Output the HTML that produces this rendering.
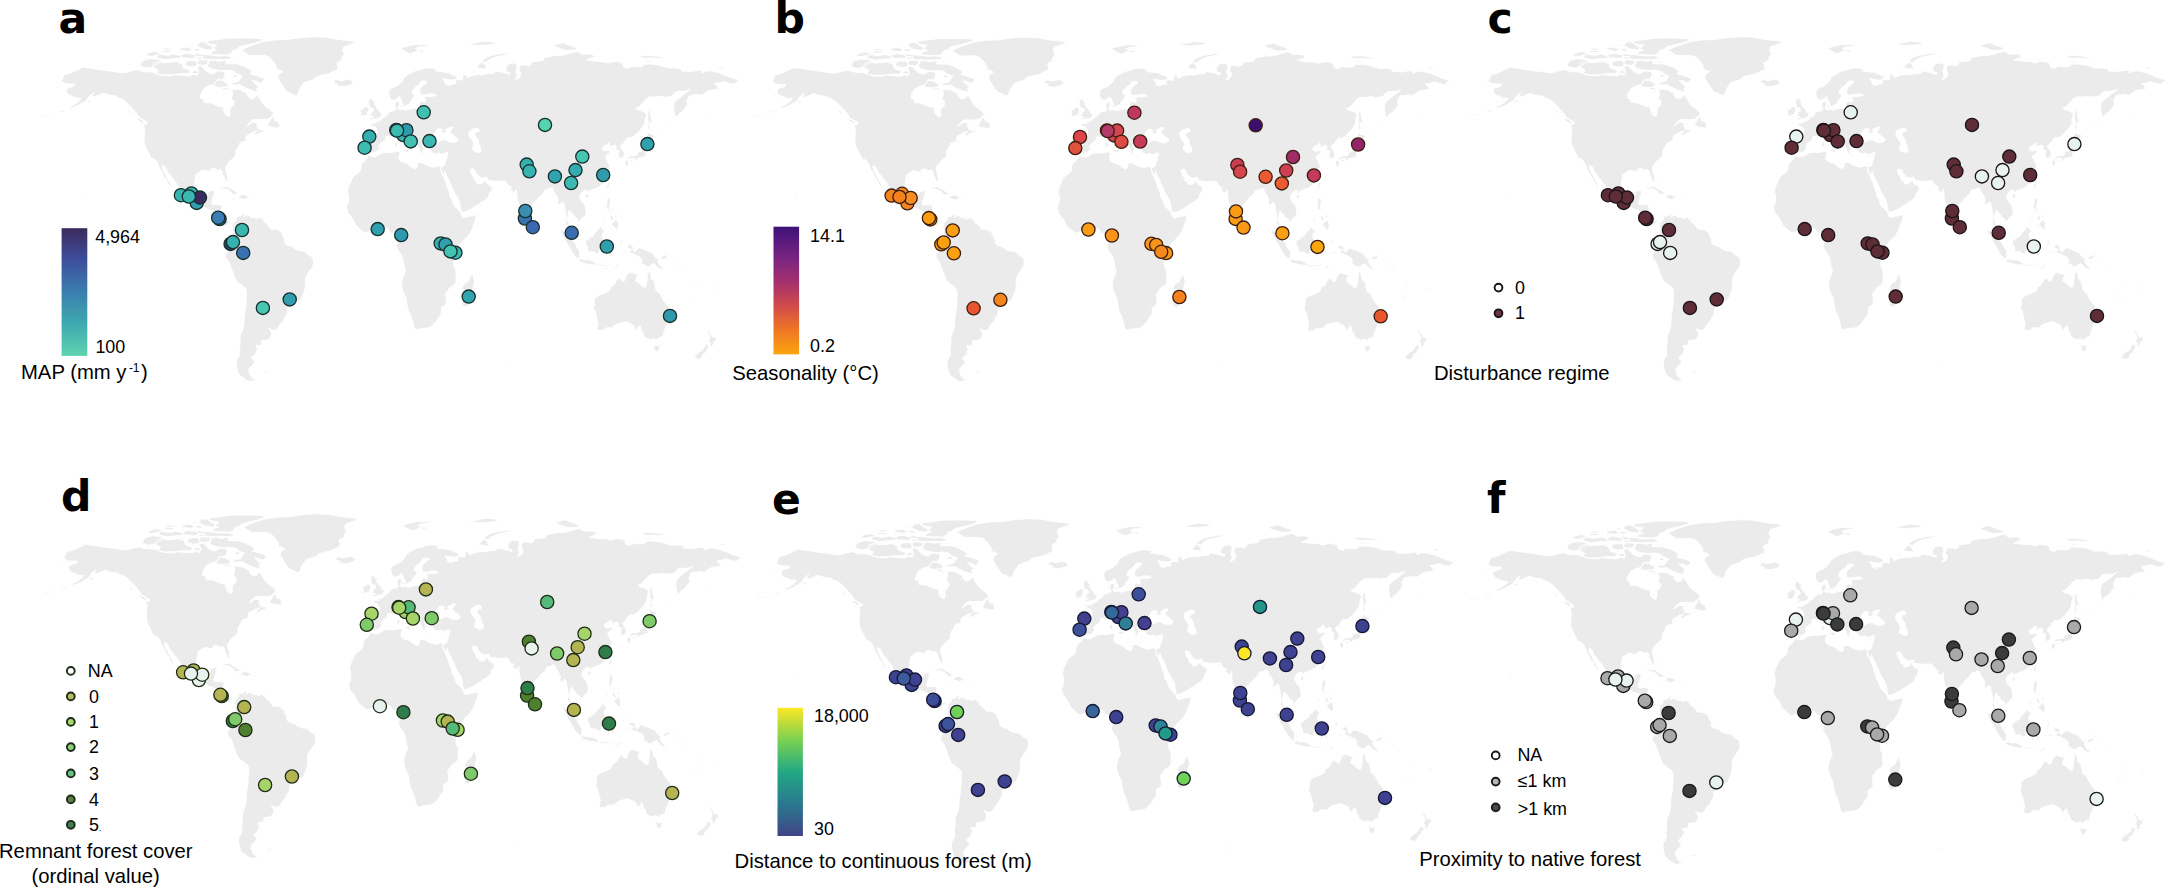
<!DOCTYPE html><html><head><meta charset="utf-8"><title>Figure</title><style>
html,body{margin:0;padding:0;background:#fff}svg{display:block}.t{font-family:"Liberation Sans",Arial,sans-serif;font-size:20.25px;fill:#000}.l{font-family:"Liberation Sans",Arial,sans-serif;font-size:17.9px;fill:#000}.pl{font-family:"DejaVu Sans","Liberation Sans",sans-serif;font-weight:bold;font-size:42.5px;fill:#000}.d{stroke-width:1.3}
</style></head><body>
<svg width="2168" height="888" viewBox="0 0 2168 888">
<defs><g id="world"><path fill="#ebebeb" stroke="#fff" stroke-width="0.9" stroke-linejoin="round" d="M61.4,81.3L64.3,74.6L70.9,72.9L83.2,67.2L91.7,68.4L105.0,70.4L112.5,71.4L123.9,72.9L133.3,70.4L137.1,69.7L142.8,71.6L152.3,72.1L161.7,75.4L171.2,75.9L175.0,74.6L182.5,75.4L190.1,75.9L193.9,74.1L197.7,75.4L198.6,71.6L196.7,67.2L200.5,65.5L204.3,69.2L207.1,72.1L212.8,74.1L216.6,71.6L218.5,70.9L224.2,71.6L225.1,74.6L223.2,79.1L217.5,79.6L215.6,82.8L213.8,84.5L209.0,85.8L204.3,88.2L201.5,92.7L200.1,97.7L203.3,98.9L204.3,102.6L209.0,102.6L212.8,103.8L218.5,106.3L223.2,107.1L224.2,112.5L226.0,115.0L228.9,116.7L230.2,113.8L229.8,108.8L233.6,105.1L234.2,101.4L231.2,98.4L232.7,93.9L231.7,89.5L235.5,89.2L240.2,89.7L244.0,92.0L246.9,92.7L247.8,96.4L250.6,98.9L254.4,98.2L257.3,94.4L260.1,98.9L262.9,103.8L265.8,106.8L270.5,110.0L273.7,113.8L271.5,116.2L267.7,119.2L262.0,119.5L253.5,119.5L249.7,122.4L246.9,126.1L252.5,122.4L257.3,122.4L256.7,126.1L260.1,129.9L263.9,129.9L265.8,128.6L263.9,131.6L259.2,133.3L255.4,135.8L254.0,134.1L257.3,131.1L252.5,132.3L249.7,134.1L246.5,135.8L245.5,139.0L246.9,140.5L244.0,141.5L239.7,143.0L238.9,146.0L236.8,148.9L235.5,152.2L235.9,155.1L234.0,157.8L230.8,160.1L227.9,163.3L225.7,167.0L225.5,170.0L227.0,174.4L227.8,179.4L227.0,181.4L225.7,181.1L224.2,177.4L222.6,174.4L222.6,171.5L220.4,169.5L217.5,170.2L214.7,168.5L210.9,169.0L210.0,171.5L207.1,171.2L202.4,170.2L199.6,172.0L195.8,174.4L195.0,179.4L194.5,184.4L194.3,189.3L195.4,193.0L197.7,196.7L200.5,198.7L205.2,197.7L207.7,195.5L208.3,191.8L211.9,190.5L214.7,190.5L213.8,195.5L212.8,198.5L211.5,202.9L212.2,204.7L216.6,204.4L220.4,204.7L221.9,206.6L221.1,211.6L220.9,216.6L222.6,220.0L225.1,221.8L227.9,220.8L229.8,220.3L232.7,222.5L233.2,224.5L231.3,223.2L230.8,221.5L228.5,222.7L227.4,223.5L227.6,225.5L226.0,225.7L224.5,223.7L222.3,223.2L220.9,222.0L218.5,219.5L217.0,217.0L213.8,211.6L210.9,210.4L207.1,209.1L204.3,207.4L201.5,203.9L198.6,204.7L196.7,204.9L192.9,203.2L190.1,201.7L186.3,199.2L182.5,197.5L179.7,193.5L180.1,189.8L177.8,185.6L175.0,181.1L172.1,177.9L170.2,174.9L167.4,172.0L165.5,167.0L162.3,165.3L162.5,168.7L165.1,173.2L167.4,178.2L169.7,182.4L171.9,186.3L170.8,186.8L167.4,182.6L166.5,179.4L163.6,176.2L162.7,173.2L160.2,169.5L158.5,165.3L157.6,162.6L155.1,159.6L151.3,158.3L149.4,154.6L147.9,151.4L146.6,148.9L144.7,144.7L144.1,139.8L144.3,134.8L144.7,129.1L143.4,124.2L146.6,124.4L147.5,122.4L143.7,120.0L139.0,117.5L137.1,113.8L133.3,109.5L130.5,106.3L126.7,102.6L122.9,99.4L119.2,98.2L114.4,95.7L108.7,95.2L103.1,93.2L98.3,95.2L94.6,96.9L91.7,96.4L93.6,92.7L88.9,96.4L87.0,100.1L82.3,103.1L77.5,105.8L72.8,107.6L68.1,108.8L70.9,106.3L75.6,103.8L80.4,100.1L81.3,98.2L76.6,98.2L72.8,96.4L69.0,95.2L66.6,92.2L66.2,89.0L70.0,87.3L74.7,85.8L74.7,84.0L70.9,84.0L65.2,83.8L61.4,81.3ZM232.7,222.5L234.0,222.3L236.1,220.0L236.5,217.5L237.8,216.3L240.6,215.8L242.7,214.3L243.6,213.1L244.6,214.6L243.5,216.6L244.0,217.0L246.3,215.3L246.9,213.6L247.4,215.3L249.9,216.1L250.6,217.5L254.0,217.5L256.7,218.8L259.2,217.3L262.0,217.3L261.1,218.5L263.9,220.3L264.3,222.5L266.2,223.2L268.6,226.0L271.1,229.2L274.9,229.2L277.5,229.7L280.2,231.7L281.9,233.1L282.8,236.4L284.7,239.3L284.7,243.1L287.5,245.3L288.9,245.5L292.3,246.5L295.1,249.2L297.9,250.0L300.8,251.0L303.6,251.0L306.5,253.0L308.7,255.4L312.3,256.7L313.3,259.9L313.5,263.6L312.5,266.8L310.4,269.8L308.5,272.5L306.5,276.0L305.5,278.5L305.5,282.9L305.3,287.6L304.2,292.1L302.7,295.3L301.7,298.3L299.8,300.8L297.0,301.0L294.7,301.5L291.7,303.2L288.9,306.0L287.3,309.4L287.2,313.9L285.1,316.9L283.6,320.6L280.5,323.8L278.3,327.5L276.2,330.0L273.0,330.2L269.9,329.0L268.8,328.0L270.9,331.2L271.8,334.0L270.3,337.9L267.7,339.7L263.9,340.4L261.6,340.4L261.6,344.6L258.6,345.6L256.3,345.1L256.3,347.8L258.8,349.1L256.7,350.3L255.8,354.0L253.5,355.8L251.6,357.7L253.5,360.2L254.8,362.2L251.6,365.7L249.1,368.4L248.8,371.4L249.9,373.6L250.3,375.6L252.5,378.1L255.9,379.3L253.5,380.5L250.3,381.5L247.2,380.5L244.0,378.3L241.2,376.3L238.7,373.8L237.4,370.1L236.5,365.2L236.5,360.2L238.3,357.7L240.0,354.0L239.3,350.3L239.7,347.3L240.2,341.6L240.2,335.9L241.9,332.0L243.5,327.3L244.0,321.8L244.2,316.9L245.0,311.9L245.9,306.5L246.1,301.5L246.5,295.8L246.3,289.4L244.2,286.9L241.2,284.7L237.0,281.7L234.9,278.0L233.2,273.5L231.3,268.6L229.8,264.1L228.1,260.6L225.7,258.7L225.5,254.9L227.4,252.2L228.1,250.0L226.2,249.2L226.4,246.3L227.8,243.3L228.3,241.3L230.2,240.1L230.8,237.6L233.0,234.4L232.7,230.2L232.9,227.0L231.9,226.0L233.2,224.2ZM368.1,155.1L371.7,156.6L375.5,156.9L378.4,155.1L381.2,153.4L385.0,152.4L388.8,152.6L393.5,152.2L397.8,151.4L400.1,152.2L399.4,154.6L398.8,158.3L400.1,160.8L402.9,162.3L407.7,163.8L410.5,166.5L415.2,168.7L417.1,167.0L417.1,163.0L420.0,162.3L422.8,163.0L426.6,165.5L430.4,166.5L434.2,167.3L438.0,165.8L440.4,166.5L440.8,169.5L441.2,172.5L442.9,175.4L444.6,179.4L446.5,184.4L447.4,188.1L449.3,191.8L449.9,196.7L452.1,199.2L453.5,204.2L454.6,206.6L457.3,208.6L459.7,211.6L461.0,213.1L461.2,215.3L463.5,217.8L466.3,217.0L469.2,216.3L473.0,215.6L476.2,214.3L475.8,217.8L475.2,220.8L473.5,224.5L472.0,229.4L470.1,232.7L467.8,236.4L465.0,238.8L461.6,242.3L459.1,245.8L457.8,248.3L455.4,250.7L454.2,254.0L452.9,258.2L453.8,260.9L453.7,264.9L454.6,268.6L455.9,270.1L455.9,274.8L456.3,279.7L455.4,283.4L453.1,285.7L449.7,287.6L448.0,290.6L445.5,293.3L446.1,297.8L446.5,302.8L445.0,305.2L441.7,307.0L441.4,309.4L441.4,312.7L440.6,314.9L438.3,317.6L436.4,321.1L433.2,324.8L430.4,327.0L427.9,328.0L424.7,328.3L420.9,328.5L417.1,330.0L414.9,328.8L414.1,327.8L413.4,324.3L412.2,320.1L410.7,315.1L408.6,311.4L407.7,308.2L406.7,303.2L406.5,299.0L404.7,295.3L402.6,290.4L401.6,285.9L401.8,282.2L402.9,277.2L405.0,273.5L405.4,270.6L403.9,266.1L403.5,261.1L402.6,258.7L402.0,256.2L400.1,253.2L397.8,250.0L396.1,245.8L397.1,242.8L397.5,239.3L397.8,236.4L397.5,234.1L395.9,232.4L393.5,232.9L391.2,233.1L389.3,230.9L387.8,228.4L385.0,227.9L381.6,228.7L378.7,230.2L375.5,231.9L373.2,231.2L370.8,230.9L367.9,231.9L365.1,232.9L362.3,231.2L359.4,228.4L357.5,226.7L355.3,224.5L354.3,222.3L353.4,220.0L351.3,217.0L349.4,214.6L347.7,213.1L347.5,210.4L346.2,207.4L347.7,204.7L348.5,200.5L348.8,196.7L348.3,193.8L347.1,191.8L348.1,188.6L349.0,185.1L350.9,181.9L351.9,178.9L354.1,175.7L356.6,174.2L359.4,172.0L360.9,169.5L360.8,166.0L362.3,162.8L364.7,160.8L366.4,159.3L367.6,156.6ZM362.3,152.2L362.7,148.9L361.3,147.7L362.5,144.2L362.8,141.0L361.7,137.3L364.2,135.6L367.9,135.8L372.1,136.1L375.9,136.3L377.0,133.6L377.0,129.9L375.1,126.9L371.0,125.4L370.4,123.7L373.6,122.9L376.3,123.4L375.9,120.7L378.9,121.7L379.7,120.7L382.1,119.2L382.7,117.5L385.9,116.5L387.6,114.5L388.4,112.5L390.7,111.5L392.9,111.0L395.4,110.5L396.1,108.8L395.0,106.3L394.6,103.8L395.6,102.4L397.8,101.4L399.4,100.9L399.0,103.6L399.9,104.3L398.6,106.3L397.8,108.1L400.1,110.0L402.9,109.1L406.2,110.3L410.1,109.1L414.3,108.1L416.4,109.1L419.0,107.6L419.0,103.8L420.2,101.4L422.1,100.9L424.9,102.4L425.5,99.4L423.8,97.2L427.5,96.4L432.3,96.4L436.4,95.4L433.2,93.7L428.5,94.2L422.8,95.4L420.0,93.7L419.6,90.2L420.9,87.3L425.7,83.5L427.2,81.8L424.7,80.8L420.9,81.3L419.6,84.0L416.2,86.5L413.0,89.5L411.8,93.2L414.9,95.2L413.4,98.2L410.9,100.6L409.6,104.3L406.9,104.8L406.2,106.6L403.9,106.6L402.9,104.3L401.6,101.1L400.3,97.7L399.2,96.4L397.3,98.2L394.4,99.9L392.2,99.9L389.7,97.7L388.8,93.9L388.8,91.0L390.3,89.0L393.5,87.3L397.3,85.8L400.1,83.5L402.6,80.8L403.9,77.8L407.3,74.9L411.1,72.9L415.2,70.9L420.0,69.9L424.7,68.2L427.9,67.7L432.3,67.9L438.0,69.7L435.1,70.9L441.7,71.9L447.4,72.4L452.1,74.6L455.9,76.1L457.3,78.6L453.1,80.1L447.4,79.6L442.7,78.6L445.1,82.1L445.3,84.3L449.3,85.5L451.2,84.0L455.9,83.8L455.0,80.8L458.8,79.3L462.5,80.1L463.1,76.6L462.2,74.1L466.3,74.9L467.3,77.8L470.1,76.4L474.8,74.9L479.6,74.4L482.4,74.9L488.1,73.6L493.8,73.4L494.7,70.9L501.3,72.1L506.1,73.4L509.3,74.6L510.2,72.9L506.1,71.4L505.7,67.9L508.9,63.5L513.6,63.0L517.0,64.2L517.0,67.9L515.9,71.6L517.4,75.9L515.1,79.6L518.4,78.3L520.3,76.1L520.8,73.4L518.7,69.2L520.8,65.0L525.9,65.0L528.8,66.0L531.6,64.2L532.2,61.7L538.2,61.2L543.3,60.5L543.9,58.0L549.6,56.5L555.3,55.5L560.9,55.5L565.7,54.6L570.4,53.1L576.6,51.3L579.9,52.6L581.7,54.3L587.4,53.8L592.1,54.3L594.4,56.8L589.3,59.3L586.5,60.0L593.1,61.0L598.8,61.5L603.5,61.7L608.2,63.0L613.0,61.5L618.6,61.7L622.4,63.0L623.7,67.2L628.1,68.4L630.9,66.4L636.6,66.7L642.3,66.7L644.2,64.2L649.9,64.0L657.4,64.7L663.1,66.4L668.8,68.2L674.5,67.9L680.1,68.4L682.0,71.2L686.8,71.2L691.5,71.6L697.2,70.4L701.9,70.2L702.1,72.9L706.6,70.9L711.3,70.9L716.1,72.1L719.9,73.1L725.5,75.4L731.2,77.8L735.9,79.1L739.3,80.1L736.9,81.6L734.0,84.3L729.3,83.3L723.6,81.6L719.9,82.8L716.1,83.5L714.8,83.5L718.0,87.3L718.9,89.2L714.2,89.5L708.5,90.7L704.7,93.2L701.9,95.2L697.2,94.4L693.4,95.2L689.6,95.4L688.1,98.2L686.8,100.6L687.7,104.3L685.4,107.6L682.0,112.0L679.2,113.3L677.3,116.2L675.8,117.5L674.5,113.8L673.7,108.8L673.9,103.8L676.0,100.6L679.2,98.2L683.0,95.2L687.7,91.5L690.5,89.0L685.8,91.0L682.0,91.2L676.3,91.5L672.6,95.2L671.6,96.4L665.0,97.2L661.2,96.2L655.5,96.9L649.9,96.9L646.1,98.9L644.2,101.4L641.3,104.3L639.1,106.8L635.7,108.3L638.5,110.0L641.3,110.5L644.2,112.0L646.6,114.3L645.1,118.7L644.7,123.7L642.3,127.4L639.5,131.1L636.6,133.6L633.8,136.5L630.9,137.8L628.1,137.3L626.8,138.8L624.9,141.0L624.7,142.7L621.5,144.7L620.5,146.7L622.4,149.7L624.1,152.6L624.1,155.9L622.4,157.4L620.2,158.1L618.3,158.3L618.6,153.4L619.2,150.7L615.8,149.7L616.4,146.0L614.5,145.0L612.0,146.0L609.2,147.4L609.7,144.2L608.6,142.7L606.0,145.2L602.6,146.9L602.2,148.9L604.1,150.9L606.3,150.9L607.9,150.2L611.1,151.4L609.2,153.1L607.3,154.4L605.0,157.1L606.7,159.1L608.0,162.6L609.9,165.8L609.6,167.3L607.3,168.7L609.2,169.5L610.1,170.7L609.4,173.7L607.3,176.4L605.8,179.4L604.4,181.4L602.7,183.4L600.7,185.6L597.8,187.6L595.4,188.6L593.1,189.3L590.3,190.5L588.4,191.3L588.0,193.5L587.0,192.3L586.9,190.5L584.6,190.0L582.7,191.3L581.0,193.0L579.5,196.7L580.4,199.2L581.7,201.7L584.2,204.2L585.5,207.4L586.1,211.6L585.9,214.6L583.6,217.0L582.1,218.0L581.0,220.0L578.5,222.0L577.6,222.3L578.0,219.0L576.1,218.0L574.2,216.6L573.2,214.1L570.4,212.3L570.2,210.4L568.5,210.9L568.3,214.1L567.2,218.3L567.0,220.8L568.5,222.7L569.4,226.0L571.3,227.0L572.9,228.4L574.6,230.9L574.9,233.9L575.1,236.9L576.4,240.3L574.9,240.3L572.3,237.9L571.0,236.4L569.8,233.9L569.1,230.2L568.7,227.7L567.7,226.5L565.9,223.5L565.3,221.5L566.0,217.8L565.9,214.1L565.1,210.4L564.3,206.6L564.0,203.4L562.4,201.9L560.9,203.4L559.6,204.7L557.7,204.2L558.1,199.7L557.1,196.7L555.8,194.3L553.9,191.8L553.0,188.6L550.7,187.8L548.6,189.3L545.8,189.8L543.9,191.0L543.1,193.8L540.5,195.5L538.2,198.0L535.2,201.7L532.9,203.7L531.2,205.2L530.7,208.4L531.2,211.1L530.5,214.1L530.3,218.3L528.8,220.8L527.3,222.0L525.9,223.7L524.2,221.5L523.3,217.8L521.8,214.1L520.4,209.6L519.7,206.6L518.4,202.9L517.4,199.2L517.0,196.2L516.8,191.8L516.5,189.3L515.5,191.8L513.3,192.3L510.2,189.1L511.7,187.1L509.5,186.3L508.0,185.1L506.4,182.4L505.1,180.9L501.3,181.1L496.6,181.4L493.8,180.9L490.5,180.6L487.7,179.9L486.8,176.9L484.3,177.7L482.4,177.9L479.6,176.9L477.3,174.9L475.8,172.5L474.7,170.0L473.0,169.0L471.6,168.7L470.1,170.0L470.9,172.7L472.0,175.2L473.9,177.7L474.3,180.4L475.4,181.4L476.4,179.2L476.9,181.9L477.1,183.9L479.6,183.9L482.0,183.6L484.3,181.1L485.8,178.9L486.2,182.6L488.1,184.6L490.2,185.3L492.4,188.1L490.9,191.8L489.0,193.5L488.7,196.7L486.2,199.2L483.7,201.2L480.5,202.7L478.1,204.9L474.8,206.6L472.0,208.6L469.2,210.1L464.4,212.1L461.6,212.3L461.0,210.4L460.3,207.1L459.9,202.9L458.8,199.7L456.9,196.7L455.0,193.5L453.5,190.5L452.1,186.8L450.2,183.1L448.9,179.9L447.0,176.4L445.9,174.4L445.1,171.0L444.4,174.4L444.0,174.9L442.7,173.7L441.4,170.7L440.8,169.5L440.4,166.5L442.1,166.8L444.0,166.3L445.1,163.8L445.7,161.6L446.8,158.3L447.2,155.6L447.8,152.6L445.5,152.9L443.2,154.1L440.8,154.4L438.0,152.6L436.8,153.9L434.2,153.4L431.3,152.2L430.8,149.9L429.2,148.7L430.0,146.5L428.9,145.7L429.8,143.7L432.3,143.7L434.5,142.5L438.3,142.0L441.7,140.0L445.5,139.8L448.4,141.5L452.1,142.5L455.0,142.2L457.8,141.0L457.8,138.5L455.0,136.5L452.1,134.1L449.9,132.3L451.2,129.9L453.5,126.9L451.2,127.1L448.4,128.1L446.1,129.1L445.5,130.6L448.4,131.3L446.1,132.3L443.2,133.8L441.0,131.6L442.7,129.9L439.5,128.6L437.4,128.9L435.5,131.6L433.6,134.8L432.1,138.0L432.5,140.8L434.2,141.7L431.5,142.2L428.9,143.2L425.7,142.5L424.3,144.7L422.4,143.5L422.2,146.0L423.4,148.2L424.7,149.7L422.8,150.2L423.2,153.4L421.7,153.4L420.2,151.7L419.4,148.9L418.3,146.7L416.2,144.0L416.2,140.5L414.3,138.5L411.5,137.0L409.2,135.6L407.5,132.3L405.4,132.3L405.0,130.6L402.6,131.6L402.8,134.1L405.0,136.1L406.2,138.8L408.2,140.0L410.0,140.0L409.6,141.3L412.4,142.5L414.3,144.2L413.9,145.2L411.5,143.7L410.7,145.7L411.7,147.2L410.5,148.9L409.0,149.7L409.6,147.2L408.6,144.7L406.7,143.0L403.9,141.7L402.4,140.3L400.1,138.5L399.2,137.5L398.6,135.3L395.9,133.8L393.5,135.6L390.7,137.0L387.8,136.3L385.4,136.8L385.4,139.8L383.1,141.5L380.2,143.5L378.7,146.0L379.7,147.9L378.0,150.7L375.1,152.6L370.8,152.9L368.7,154.6L367.4,152.6L365.7,151.7ZM241.2,50.1L246.9,47.4L252.5,45.1L262.0,41.9L275.2,39.9L288.5,39.4L299.8,37.7L313.1,36.7L326.3,37.2L337.7,39.4L350.9,40.9L356.6,41.9L349.0,44.9L343.4,46.9L342.4,50.6L344.3,54.3L341.5,58.0L342.4,60.0L336.7,63.0L337.7,66.7L337.7,69.7L332.9,71.6L328.2,74.1L322.5,75.1L316.9,76.6L313.1,79.8L308.4,81.1L303.6,82.8L302.3,85.3L299.8,88.2L298.3,92.7L297.0,95.2L294.2,95.2L291.3,93.4L287.5,92.2L284.7,89.0L282.2,85.3L280.0,81.6L277.7,77.8L279.0,74.1L282.8,71.6L280.0,70.4L276.2,69.2L276.2,65.5L273.3,61.7L269.6,57.3L263.9,55.3L256.3,55.5L249.7,55.5L245.0,52.6ZM257.3,91.6L254.3,91.1L250.3,89.8L244.3,87.2L240.3,84.8L232.3,85.1L231.3,82.7L238.3,81.6L240.3,78.5L242.3,75.9L237.3,74.0L232.3,70.6L227.2,70.1L223.2,70.6L217.2,70.1L211.2,68.8L208.2,66.9L207.2,63.5L208.2,60.6L215.2,60.1L218.2,61.4L224.2,60.4L231.3,62.2L235.3,63.5L243.3,65.9L248.3,68.5L252.3,71.4L250.3,74.0L257.3,75.9L263.3,78.0L264.3,79.8L260.3,83.2L256.3,81.1L252.3,80.6L255.3,84.0L259.3,87.2L256.3,88.5L257.7,90.0ZM156.1,73.6L163.7,75.0L173.5,74.5L181.1,73.6L188.7,73.6L190.9,70.8L183.3,67.9L182.2,63.6L177.8,61.4L171.3,62.2L163.7,62.8L160.4,61.1L153.9,63.1L152.8,67.1L158.2,69.9ZM140.6,66.1L146.1,68.1L151.5,67.2L158.0,63.5L162.4,61.5L158.0,59.2L149.3,58.7L142.8,60.7L140.6,63.8ZM210.0,54.3L218.5,54.8L227.9,55.1L231.7,53.1L232.7,50.6L237.4,49.1L239.3,46.9L246.9,44.9L254.4,43.2L262.0,40.7L262.0,38.7L250.6,38.0L237.4,38.0L227.9,38.2L216.6,39.7L209.0,40.7L205.2,42.7L210.9,44.2L216.6,44.9L214.7,46.9L212.8,48.6L216.6,50.1L212.8,51.1L210.9,52.6ZM196.5,45.6L203.0,49.0L211.7,50.2L212.8,47.1L207.4,44.2L206.3,41.9L199.8,41.9ZM204.2,59.1L212.9,59.6L223.7,59.4L230.3,59.1L231.4,56.8L225.9,55.7L217.2,55.9L209.6,54.8L203.1,54.5L194.4,53.1L195.5,55.9L200.9,57.4ZM156.5,57.7L164.1,59.7L171.7,58.8L180.4,58.2L181.5,56.0L173.9,54.0L167.4,55.4L158.7,54.0L154.3,55.4ZM181.7,57.8L194.8,58.4L195.9,54.9L186.1,53.2L180.6,54.9ZM197.0,64.5L203.5,65.3L208.9,63.6L208.9,60.2L199.1,59.9L197.0,62.2ZM184.4,65.1L191.0,67.1L196.4,66.6L197.5,62.8L194.2,60.3L186.6,61.1ZM145.6,55.8L156.5,56.6L160.8,52.9L154.3,51.5L147.8,53.2ZM190.4,73.0L198.0,73.6L199.1,71.6L194.7,70.2ZM213.8,86.6L220.3,87.4L226.9,86.9L228.4,84.0L222.5,80.6L217.1,79.8L214.9,83.2ZM267.1,125.6L273.3,127.6L279.0,128.1L279.6,125.4L278.1,121.7L274.3,120.4L273.9,116.2L270.9,118.7L269.0,122.4ZM136.6,118.0L141.9,119.5L145.6,123.9L141.9,122.9L137.5,120.0ZM127.7,110.0L130.1,110.3L131.1,114.3L129.0,113.0ZM87.0,101.4L91.1,100.1L91.3,101.9L87.9,103.1ZM59.6,111.3L64.3,110.0L64.3,111.5L59.6,113.0ZM42.5,115.0L52.0,114.0L52.0,115.2L42.5,116.2ZM705.7,112.5L708.5,113.0L708.5,114.0L705.7,113.5ZM54.4,86.8L59.6,87.0L59.9,88.0L54.8,87.7ZM62.8,94.7L65.6,94.4L65.6,95.7L63.0,95.7ZM84.1,193.8L86.0,194.8L84.9,197.0L84.0,195.3ZM333.3,81.6L336.2,79.3L340.5,80.8L345.2,79.8L349.0,79.1L351.7,81.1L353.6,82.8L350.9,84.8L344.3,86.8L340.5,86.3L336.5,85.8L337.7,84.0L333.9,83.0ZM368.5,119.7L372.7,119.2L377.4,118.2L381.8,117.2L380.8,116.2L382.5,113.3L379.9,112.5L378.9,110.0L376.5,107.6L375.1,105.1L374.0,104.1L375.5,101.4L372.7,100.9L373.4,98.6L369.8,98.6L368.3,101.4L368.9,105.1L370.2,107.6L372.7,107.8L373.6,110.0L373.2,111.5L370.8,111.8L371.4,113.8L369.5,115.5L372.7,116.5L373.6,117.0L371.2,117.5ZM360.4,115.7L363.2,116.0L367.4,114.5L367.9,111.8L368.9,108.8L367.4,107.1L365.1,106.8L363.2,108.8L360.4,109.5L360.8,111.8L361.3,113.8L359.8,115.0ZM400.1,48.1L405.8,51.8L410.5,53.8L415.2,51.8L420.0,49.9L415.2,48.6L419.0,46.9L430.4,45.6L424.7,44.6L415.2,44.4L407.7,46.1ZM419.0,51.8L424.7,52.3L422.8,49.9L419.0,50.1ZM476.7,66.7L479.6,68.4L487.1,68.9L485.3,65.5L484.3,63.5L481.5,62.2L478.6,65.0ZM481.5,61.7L486.2,62.5L489.0,59.8L494.7,57.3L502.3,55.5L508.9,54.1L509.8,53.1L502.3,53.3L492.8,55.1L487.1,57.0L483.4,59.3ZM559.0,48.1L566.6,50.6L574.2,50.1L578.0,49.4L574.2,46.9L568.5,45.1L562.8,42.7L555.3,44.4L553.4,46.1ZM638.5,57.3L646.1,58.3L651.7,58.0L659.3,58.5L664.0,57.5L655.5,56.0L649.9,55.5L642.3,55.3ZM644.2,61.7L650.8,62.5L649.9,61.0L645.1,60.7ZM466.3,44.4L477.7,45.6L489.0,44.9L496.6,43.7L492.8,41.9L483.4,41.2L473.9,43.2ZM717.0,67.9L721.8,68.4L724.6,67.2L719.9,66.4ZM470.7,72.9L473.0,73.6L473.9,72.4L472.0,71.6ZM648.0,129.9L650.6,128.4L649.5,126.6L650.2,121.7L652.7,122.4L650.4,116.2L650.4,112.5L649.3,109.3L648.0,111.8L647.6,116.2L648.3,122.4L648.0,126.1ZM625.6,166.5L627.7,166.0L628.9,162.1L627.2,159.8L624.7,160.8L624.9,163.0ZM627.2,159.6L630.0,158.8L632.8,158.1L634.7,158.1L635.1,160.8L637.2,159.6L638.1,158.1L640.8,158.1L642.3,157.1L644.2,157.1L645.7,155.4L646.1,150.9L647.0,148.4L648.0,145.7L647.0,141.3L644.7,141.7L644.2,145.2L643.2,148.9L641.3,151.4L638.9,150.9L637.9,152.6L636.6,155.4L632.8,155.6L630.0,156.1L627.2,158.6ZM630.0,162.1L631.9,161.3L633.2,161.1L634.2,159.1L630.9,159.6ZM644.2,141.0L646.1,140.3L647.0,138.5L650.2,139.8L654.6,136.5L653.6,134.3L649.9,134.1L647.4,131.3L647.2,136.5L644.7,136.8ZM655.5,133.6L660.3,131.1L663.1,129.4L662.7,128.9L659.3,131.1L655.5,132.8ZM666.9,127.4L672.6,121.2L674.5,118.2L673.9,118.0L671.6,121.2L666.5,126.9ZM606.5,186.8L607.9,189.3L609.2,185.6L609.9,181.9L608.2,181.6ZM585.0,196.2L586.5,198.7L588.4,197.2L589.3,194.8L587.4,194.0ZM606.9,204.2L607.3,198.0L610.5,198.0L610.5,203.4L609.2,206.6L610.1,209.1L613.9,211.6L613.5,212.6L610.1,209.9L607.9,209.6L606.3,206.6ZM610.1,226.5L613.0,222.3L616.7,219.5L618.6,224.0L618.1,228.2L616.6,229.9L613.9,227.0L612.6,225.2ZM614.9,216.6L615.8,212.8L617.1,216.1L616.2,219.0ZM610.1,214.6L612.0,215.3L613.5,219.0L612.6,220.8L611.1,219.5L610.1,217.8ZM607.3,210.6L609.2,210.9L608.8,213.3L608.0,212.8ZM601.0,222.7L603.5,220.5L605.4,217.8L605.0,215.8L602.6,219.5ZM585.5,240.1L588.0,239.6L590.1,237.4L593.1,235.9L595.0,232.7L597.8,230.2L600.3,226.5L602.0,228.4L604.8,230.7L602.6,233.1L602.2,236.4L604.4,241.3L601.6,243.1L601.6,246.3L599.7,250.0L598.8,253.7L595.9,253.7L593.1,251.7L590.3,252.0L587.8,250.7L587.4,247.0L585.5,243.8ZM559.6,229.9L563.8,230.9L566.0,234.4L569.1,237.4L571.9,239.6L575.1,243.1L577.0,247.5L579.9,251.2L579.5,258.2L577.0,258.2L572.9,253.7L569.4,247.5L566.6,242.6L563.8,237.6ZM578.3,260.6L581.4,258.7L584.6,259.9L588.9,259.7L592.5,261.1L595.9,263.1L595.9,265.3L589.3,264.4L583.6,263.1L580.8,262.1ZM605.4,257.4L607.1,257.4L606.9,251.2L608.6,251.2L610.1,255.7L612.0,256.9L612.0,253.7L610.1,251.2L609.2,248.3L612.6,246.3L612.0,245.0L609.2,246.0L607.3,243.1L612.0,242.8L615.8,240.1L614.9,241.3L612.0,241.4L608.2,240.8L606.3,242.1L606.0,245.8L604.4,250.0L605.2,252.5ZM627.2,245.8L630.0,244.8L632.8,245.8L633.4,250.0L634.7,252.0L637.6,249.2L639.5,247.5L642.3,248.8L646.1,250.2L649.9,252.0L652.7,253.2L655.5,257.4L658.9,259.2L657.4,261.1L660.3,266.1L664.6,269.3L661.2,269.3L657.4,267.3L654.6,263.6L650.8,264.4L649.9,266.6L646.1,266.3L642.3,263.6L640.4,264.4L641.9,260.6L640.4,257.4L635.7,254.9L631.9,253.2L630.6,253.7L629.0,250.7L632.4,249.5L630.0,249.2L627.2,247.0ZM596.9,264.1L600.7,264.6L604.4,264.4L608.2,264.6L612.0,264.1L612.0,265.3L606.3,265.8L600.7,266.1L596.9,265.6ZM613.0,269.3L615.8,265.6L620.0,264.6L616.7,267.3L613.9,269.3ZM604.4,267.3L607.9,268.1L606.3,269.1ZM620.5,243.8L621.5,238.8L622.8,241.3L621.5,245.8ZM621.5,251.2L626.8,251.7L625.3,253.0L621.5,252.5ZM617.7,251.7L620.0,252.0L619.6,253.2L617.9,253.0ZM659.9,257.7L663.1,256.2L667.3,254.2L666.9,257.4L663.1,259.4ZM664.6,250.2L668.4,253.5L668.8,255.4L667.5,253.7L664.4,251.0ZM671.8,257.2L674.3,260.1L673.3,260.6L671.8,258.4ZM676.3,262.4L682.0,266.8L685.4,269.8L684.9,270.3L681.1,267.3L676.0,263.1ZM694.3,281.0L695.6,281.5L697.7,287.1L696.8,287.4ZM689.6,293.6L693.4,297.1L695.3,299.0L694.3,299.3L690.5,295.8ZM714.8,287.1L717.0,286.9L717.2,288.9L714.9,288.9ZM530.3,224.0L531.0,219.5L533.1,222.7L534.1,226.5L532.6,228.4L531.0,228.9L530.3,226.5ZM472.6,273.5L474.5,281.7L473.5,285.4L472.8,288.4L471.6,293.3L470.1,299.5L468.6,305.2L465.4,307.0L462.5,305.7L461.2,299.5L463.1,293.3L462.5,287.1L464.4,283.4L468.2,281.5L470.1,277.2ZM594.4,299.5L595.4,297.8L600.1,294.8L604.4,293.3L609.2,290.9L610.7,286.4L613.0,285.9L614.9,283.4L616.7,279.7L619.2,278.0L621.1,279.7L622.0,281.0L624.5,280.7L626.8,274.5L630.0,272.0L634.7,274.0L638.1,274.0L636.6,277.2L635.7,281.0L639.5,283.4L643.2,287.1L645.7,287.1L647.0,281.0L647.4,274.8L648.9,270.3L650.8,274.8L651.4,279.2L654.2,281.0L655.5,287.1L656.1,290.6L660.3,293.8L662.2,298.3L664.6,302.0L668.4,306.5L669.2,310.7L669.9,314.6L668.8,320.6L666.9,325.0L665.4,328.0L663.5,333.0L663.1,336.7L659.3,337.4L656.1,340.4L653.1,338.4L650.8,339.9L646.1,338.2L643.6,335.4L642.9,332.0L640.8,332.0L641.3,329.8L640.0,325.5L637.6,328.0L636.6,330.2L635.3,329.3L633.2,325.0L629.0,323.1L627.2,321.8L623.4,322.1L617.7,323.6L613.9,325.5L613.0,327.8L606.3,327.8L602.6,330.5L598.8,330.5L596.9,328.8L598.2,323.1L596.9,318.6L595.4,311.9L593.5,308.2L594.4,304.5ZM653.1,344.6L656.5,345.6L659.9,345.1L659.7,348.3L658.4,351.1L655.5,351.5L654.0,348.3ZM706.0,329.0L709.1,331.2L711.3,334.2L712.3,336.9L716.6,336.9L715.7,340.9L714.2,341.6L712.9,345.4L710.8,346.8L709.8,346.1L710.4,342.9L708.1,341.1L709.8,339.2L709.8,335.4L706.6,330.5ZM706.0,344.1L708.9,345.9L708.5,347.8L706.2,351.1L706.8,352.3L703.4,353.5L702.3,357.2L700.0,359.2L697.7,359.2L694.3,357.7L695.3,355.3L697.7,352.8L701.9,350.3L703.8,347.8L705.1,344.9ZM218.5,189.8L222.3,186.8L227.0,186.3L233.6,190.3L238.9,193.8L232.7,194.5L231.7,192.5L228.9,190.0L224.2,188.3L220.4,189.3ZM238.3,198.2L241.2,194.5L244.0,194.5L247.2,196.0L249.9,197.7L246.9,198.5L244.0,200.0L242.1,198.7ZM231.2,198.2L234.9,199.0L233.6,199.7L231.3,199.2ZM252.2,198.0L255.2,198.2L254.4,199.5L252.2,199.2ZM262.2,217.3L264.1,217.0L263.9,218.8L262.2,218.8ZM230.8,177.7L233.2,177.9L233.2,178.9L231.0,178.4ZM231.2,181.9L232.3,182.1L232.5,184.4L231.3,183.6ZM402.9,149.7L408.8,148.9L407.9,152.9L402.9,150.7ZM394.8,147.2L395.0,142.2L397.7,142.2L397.5,146.7ZM395.6,138.5L397.1,137.3L397.3,140.5L395.9,141.0ZM423.8,155.6L429.1,156.4L425.7,157.1ZM440.4,157.1L443.6,155.9L444.6,155.4L442.7,157.8ZM263.9,372.1L269.6,371.1L268.6,373.1L264.8,373.1ZM480.1,212.6L482.4,212.6L482.2,213.3L480.3,213.3ZM400.1,105.8L402.9,105.1L402.9,107.1L400.7,107.6ZM413.7,102.1L415.2,100.4L414.9,101.9ZM509.5,365.2L512.7,365.4L512.1,366.9L509.8,366.7ZM179.9,50.2L188.6,51.4L192.9,49.4L187.5,47.1L179.9,48.0ZM193.5,50.7L198.9,51.3L200.0,49.0L194.5,48.2ZM162.9,50.0L171.6,50.2L172.7,48.5L165.1,48.0ZM162.0,52.5L170.7,52.5L171.8,50.5L163.1,50.5ZM178.7,52.8L182.5,53.1L181.6,51.1ZM196.3,58.9L202.8,59.2L202.8,56.4L197.3,56.6ZM190.1,46.4L193.9,46.4L193.9,44.9L190.1,45.1ZM225.4,63.6L235.2,63.9L234.1,61.3L226.5,61.1ZM232.3,77.3L237.8,77.3L236.7,74.7L233.4,74.7ZM221.8,89.6L228.3,89.6L228.3,87.6L222.9,87.6ZM227.0,91.0L229.8,91.0L229.3,89.2L227.0,89.2ZM224.2,113.0L227.9,113.0L227.0,111.8L224.2,112.0ZM257.3,120.4L262.4,122.2L262.0,121.2L257.8,120.0ZM257.8,128.1L262.0,128.6L261.1,129.6L258.2,129.1ZM153.2,56.5L157.0,56.8L156.4,55.5L153.6,55.5ZM177.8,62.5L181.0,63.0L181.0,61.2L178.7,61.0Z"/><path fill="#fff" d="M469.2,131.1L473.0,128.6L477.7,127.6L480.0,129.9L479.2,131.8L476.2,132.3L475.8,134.1L474.5,134.1L476.7,137.3L479.0,140.3L478.8,142.7L479.6,144.7L481.1,147.4L481.5,151.7L477.7,152.9L474.8,151.7L472.0,149.7L472.6,146.0L473.7,143.7L471.6,140.3L469.5,137.3L468.2,134.1Z"/></g>

<linearGradient id="gA" x1="0" y1="0" x2="0" y2="1"><stop offset="0" stop-color="#3a2a5c"/><stop offset="0.25" stop-color="#3d4f9c"/><stop offset="0.5" stop-color="#3a7fae"/><stop offset="0.75" stop-color="#3fa9b0"/><stop offset="1" stop-color="#5fd3b0"/></linearGradient>
<linearGradient id="gB" x1="0" y1="0" x2="0" y2="1"><stop offset="0" stop-color="#3d1278"/><stop offset="0.25" stop-color="#7a2482"/><stop offset="0.45" stop-color="#a8326a"/><stop offset="0.62" stop-color="#d14b4b"/><stop offset="0.8" stop-color="#ee7425"/><stop offset="1" stop-color="#fca50f"/></linearGradient>
<linearGradient id="gE" x1="0" y1="0" x2="0" y2="1"><stop offset="0" stop-color="#fde725"/><stop offset="0.25" stop-color="#7ad151"/><stop offset="0.5" stop-color="#22a884"/><stop offset="0.75" stop-color="#2a788e"/><stop offset="1" stop-color="#414487"/></linearGradient>

</defs>
<rect width="2168" height="888" fill="#fff"/>
<use href="#world" x="0" y="0"/>
<use href="#world" x="710.7" y="0.4"/>
<use href="#world" x="1427" y="0"/>
<use href="#world" x="2.2" y="477.1"/>
<use href="#world" x="715" y="482"/>
<use href="#world" x="1426.6" y="483"/>
<g class="d" id="dots-a" stroke="#17302f">
<circle cx="180.9" cy="195.2" r="6.6" fill="#37b3b0"/>
<circle cx="191.4" cy="193.4" r="6.6" fill="#35b0b0"/>
<circle cx="196.7" cy="202.9" r="6.6" fill="#309fae"/>
<circle cx="200.0" cy="197.6" r="6.6" fill="#3b2a5e"/>
<circle cx="188.8" cy="196.5" r="6.6" fill="#3bb8b2"/>
<circle cx="219.6" cy="219.0" r="6.6" fill="#2f5f8f"/>
<circle cx="218.2" cy="217.7" r="6.6" fill="#3a7db5"/>
<circle cx="242.0" cy="230.0" r="6.6" fill="#3ab7b1"/>
<circle cx="230.6" cy="243.9" r="6.6" fill="#2b3f6e"/>
<circle cx="233.0" cy="242.1" r="6.6" fill="#36b0b0"/>
<circle cx="243.2" cy="252.9" r="6.6" fill="#3a6fb0"/>
<circle cx="262.9" cy="307.9" r="6.6" fill="#48c7b0"/>
<circle cx="289.7" cy="299.4" r="6.6" fill="#30a0ae"/>
<circle cx="369.3" cy="136.6" r="6.6" fill="#34aeb0"/>
<circle cx="364.6" cy="147.7" r="6.6" fill="#3ebcb1"/>
<circle cx="396.3" cy="130.0" r="6.6" fill="#2f6f80"/>
<circle cx="403.4" cy="135.0" r="6.6" fill="#3ab5b0"/>
<circle cx="406.4" cy="130.2" r="6.6" fill="#2f9aab"/>
<circle cx="397.0" cy="130.6" r="6.6" fill="#3cb9b1"/>
<circle cx="410.7" cy="141.4" r="6.6" fill="#42c0b1"/>
<circle cx="429.5" cy="141.1" r="6.6" fill="#3bb8b1"/>
<circle cx="423.7" cy="112.3" r="6.6" fill="#41c0b1"/>
<circle cx="545.0" cy="124.9" r="6.6" fill="#55d3b0"/>
<circle cx="647.4" cy="144.1" r="6.6" fill="#30a2ae"/>
<circle cx="582.3" cy="156.6" r="6.6" fill="#46c5b1"/>
<circle cx="526.7" cy="164.6" r="6.6" fill="#35b0b0"/>
<circle cx="529.4" cy="171.3" r="6.6" fill="#38b4b0"/>
<circle cx="575.5" cy="170.1" r="6.6" fill="#34acaf"/>
<circle cx="554.9" cy="176.4" r="6.6" fill="#31a3ae"/>
<circle cx="571.1" cy="183.0" r="6.6" fill="#3cbab1"/>
<circle cx="603.2" cy="175.0" r="6.6" fill="#319bad"/>
<circle cx="524.9" cy="218.5" r="6.6" fill="#3a72b0"/>
<circle cx="525.3" cy="211.0" r="6.6" fill="#3a8fb0"/>
<circle cx="532.8" cy="227.2" r="6.6" fill="#3a68b0"/>
<circle cx="571.7" cy="232.8" r="6.6" fill="#3a6db0"/>
<circle cx="606.8" cy="246.5" r="6.6" fill="#30a0ae"/>
<circle cx="377.7" cy="229.1" r="6.6" fill="#30a0ae"/>
<circle cx="401.2" cy="235.1" r="6.6" fill="#309aad"/>
<circle cx="440.7" cy="243.4" r="6.6" fill="#35b0b0"/>
<circle cx="445.5" cy="244.5" r="6.6" fill="#319fae"/>
<circle cx="455.4" cy="252.7" r="6.6" fill="#3bb8b1"/>
<circle cx="450.5" cy="251.4" r="6.6" fill="#42c2b1"/>
<circle cx="468.7" cy="296.6" r="6.6" fill="#31a5ae"/>
<circle cx="670.0" cy="315.9" r="6.6" fill="#309aad"/>
</g>
<g class="d" id="dots-b" stroke="#3d1f10">
<circle cx="891.6" cy="195.6" r="6.6" fill="#f5841f"/>
<circle cx="902.1" cy="193.8" r="6.6" fill="#f5841f"/>
<circle cx="907.4" cy="203.3" r="6.6" fill="#f5841f"/>
<circle cx="910.7" cy="198.0" r="6.6" fill="#f78d22"/>
<circle cx="899.5" cy="196.9" r="6.6" fill="#f4811f"/>
<circle cx="930.3" cy="219.4" r="6.6" fill="#f08a1c"/>
<circle cx="928.9" cy="218.1" r="6.6" fill="#fb9d14"/>
<circle cx="952.7" cy="230.4" r="6.6" fill="#fba012"/>
<circle cx="941.3" cy="244.3" r="6.6" fill="#f39419"/>
<circle cx="943.7" cy="242.5" r="6.6" fill="#fba012"/>
<circle cx="953.9" cy="253.3" r="6.6" fill="#fba012"/>
<circle cx="973.6" cy="308.3" r="6.6" fill="#e8552f"/>
<circle cx="1000.4" cy="299.8" r="6.6" fill="#f5841f"/>
<circle cx="1080.0" cy="137.0" r="6.6" fill="#dd4548"/>
<circle cx="1075.3" cy="148.1" r="6.6" fill="#e0533e"/>
<circle cx="1107.0" cy="130.4" r="6.6" fill="#7a1f5a"/>
<circle cx="1114.1" cy="135.4" r="6.6" fill="#d0444f"/>
<circle cx="1117.1" cy="130.6" r="6.6" fill="#d4464f"/>
<circle cx="1107.7" cy="131.0" r="6.6" fill="#b5396a"/>
<circle cx="1121.4" cy="141.8" r="6.6" fill="#dd4b45"/>
<circle cx="1140.2" cy="141.5" r="6.6" fill="#c93a58"/>
<circle cx="1134.4" cy="112.7" r="6.6" fill="#bf3762"/>
<circle cx="1255.7" cy="125.3" r="6.6" fill="#3b0f6e"/>
<circle cx="1358.1" cy="144.5" r="6.6" fill="#932667"/>
<circle cx="1293.0" cy="157.0" r="6.6" fill="#a02c65"/>
<circle cx="1237.4" cy="165.0" r="6.6" fill="#c93e55"/>
<circle cx="1240.1" cy="171.7" r="6.6" fill="#d4454f"/>
<circle cx="1286.2" cy="170.5" r="6.6" fill="#cc3f55"/>
<circle cx="1265.6" cy="176.8" r="6.6" fill="#ea5a33"/>
<circle cx="1281.8" cy="183.4" r="6.6" fill="#ea5d32"/>
<circle cx="1313.9" cy="175.4" r="6.6" fill="#c23a5c"/>
<circle cx="1235.6" cy="218.9" r="6.6" fill="#fb9c14"/>
<circle cx="1236.0" cy="211.4" r="6.6" fill="#fb9c14"/>
<circle cx="1243.5" cy="227.6" r="6.6" fill="#fa9a16"/>
<circle cx="1282.4" cy="233.2" r="6.6" fill="#fba012"/>
<circle cx="1317.5" cy="246.9" r="6.6" fill="#fca60f"/>
<circle cx="1088.4" cy="229.5" r="6.6" fill="#fa9c16"/>
<circle cx="1111.9" cy="235.5" r="6.6" fill="#f99418"/>
<circle cx="1151.4" cy="243.8" r="6.6" fill="#f8951a"/>
<circle cx="1156.2" cy="244.9" r="6.6" fill="#f8951a"/>
<circle cx="1166.1" cy="253.1" r="6.6" fill="#f8951a"/>
<circle cx="1161.2" cy="251.8" r="6.6" fill="#f6891d"/>
<circle cx="1179.4" cy="297.0" r="6.6" fill="#f5811f"/>
<circle cx="1380.7" cy="316.3" r="6.6" fill="#e9572f"/>
</g>
<g class="d" id="dots-c" stroke="#1c1416">
<circle cx="1607.9" cy="195.2" r="6.6" fill="#5f2d38"/>
<circle cx="1618.4" cy="193.4" r="6.6" fill="#5f2d38"/>
<circle cx="1623.7" cy="202.9" r="6.6" fill="#5f2d38"/>
<circle cx="1627.0" cy="197.6" r="6.6" fill="#5f2d38"/>
<circle cx="1615.8" cy="196.5" r="6.6" fill="#5f2d38"/>
<circle cx="1646.6" cy="219.0" r="6.6" fill="#5f2d38"/>
<circle cx="1645.2" cy="217.7" r="6.6" fill="#5f2d38"/>
<circle cx="1669.0" cy="230.0" r="6.6" fill="#5f2d38"/>
<circle cx="1657.6" cy="243.9" r="6.6" fill="#e8f3ef"/>
<circle cx="1660.0" cy="242.1" r="6.6" fill="#e8f3ef"/>
<circle cx="1670.2" cy="252.9" r="6.6" fill="#e8f3ef"/>
<circle cx="1689.9" cy="307.9" r="6.6" fill="#5f2d38"/>
<circle cx="1716.7" cy="299.4" r="6.6" fill="#5f2d38"/>
<circle cx="1796.3" cy="136.6" r="6.6" fill="#e8f3ef"/>
<circle cx="1791.6" cy="147.7" r="6.6" fill="#5f2d38"/>
<circle cx="1823.3" cy="130.0" r="6.6" fill="#5f2d38"/>
<circle cx="1830.4" cy="135.0" r="6.6" fill="#5f2d38"/>
<circle cx="1833.4" cy="130.2" r="6.6" fill="#5f2d38"/>
<circle cx="1824.0" cy="130.6" r="6.6" fill="#5f2d38"/>
<circle cx="1837.7" cy="141.4" r="6.6" fill="#5f2d38"/>
<circle cx="1856.5" cy="141.1" r="6.6" fill="#5f2d38"/>
<circle cx="1850.7" cy="112.3" r="6.6" fill="#e8f3ef"/>
<circle cx="1972.0" cy="124.9" r="6.6" fill="#5f2d38"/>
<circle cx="2074.4" cy="144.1" r="6.6" fill="#e8f3ef"/>
<circle cx="2009.3" cy="156.6" r="6.6" fill="#5f2d38"/>
<circle cx="1953.7" cy="164.6" r="6.6" fill="#5f2d38"/>
<circle cx="1956.4" cy="171.3" r="6.6" fill="#5f2d38"/>
<circle cx="2002.5" cy="170.1" r="6.6" fill="#e8f3ef"/>
<circle cx="1981.9" cy="176.4" r="6.6" fill="#e8f3ef"/>
<circle cx="1998.1" cy="183.0" r="6.6" fill="#e8f3ef"/>
<circle cx="2030.2" cy="175.0" r="6.6" fill="#5f2d38"/>
<circle cx="1951.9" cy="218.5" r="6.6" fill="#5f2d38"/>
<circle cx="1952.3" cy="211.0" r="6.6" fill="#5f2d38"/>
<circle cx="1959.8" cy="227.2" r="6.6" fill="#5f2d38"/>
<circle cx="1998.7" cy="232.8" r="6.6" fill="#5f2d38"/>
<circle cx="2033.8" cy="246.5" r="6.6" fill="#e8f3ef"/>
<circle cx="1804.7" cy="229.1" r="6.6" fill="#5f2d38"/>
<circle cx="1828.2" cy="235.1" r="6.6" fill="#5f2d38"/>
<circle cx="1867.7" cy="243.4" r="6.6" fill="#5f2d38"/>
<circle cx="1872.5" cy="244.5" r="6.6" fill="#5f2d38"/>
<circle cx="1882.4" cy="252.7" r="6.6" fill="#5f2d38"/>
<circle cx="1877.5" cy="251.4" r="6.6" fill="#5f2d38"/>
<circle cx="1895.7" cy="296.6" r="6.6" fill="#5f2d38"/>
<circle cx="2097.0" cy="315.9" r="6.6" fill="#5f2d38"/>
</g>
<g class="d" id="dots-d" stroke="#1f2d17">
<circle cx="183.1" cy="672.3" r="6.6" fill="#b5b452"/>
<circle cx="193.6" cy="670.5" r="6.6" fill="#b5b452"/>
<circle cx="198.9" cy="680.0" r="6.6" fill="#e8f3ef"/>
<circle cx="202.2" cy="674.7" r="6.6" fill="#e8f3ef"/>
<circle cx="191.0" cy="673.6" r="6.6" fill="#e8f3ef"/>
<circle cx="221.8" cy="696.1" r="6.6" fill="#4f8030"/>
<circle cx="220.4" cy="694.8" r="6.6" fill="#b5b452"/>
<circle cx="244.2" cy="707.1" r="6.6" fill="#b5b452"/>
<circle cx="232.8" cy="721.0" r="6.6" fill="#2f7d4a"/>
<circle cx="235.2" cy="719.2" r="6.6" fill="#7fcb6c"/>
<circle cx="245.4" cy="730.0" r="6.6" fill="#4f8030"/>
<circle cx="265.1" cy="785.0" r="6.6" fill="#a6d468"/>
<circle cx="291.9" cy="776.5" r="6.6" fill="#b5b452"/>
<circle cx="371.5" cy="613.7" r="6.6" fill="#a6d468"/>
<circle cx="366.8" cy="624.8" r="6.6" fill="#7fcb6c"/>
<circle cx="398.5" cy="607.1" r="6.6" fill="#2f7d4a"/>
<circle cx="405.6" cy="612.1" r="6.6" fill="#a6d468"/>
<circle cx="408.6" cy="607.3" r="6.6" fill="#55b97a"/>
<circle cx="399.2" cy="607.7" r="6.6" fill="#a6d468"/>
<circle cx="412.9" cy="618.5" r="6.6" fill="#a6d468"/>
<circle cx="431.7" cy="618.2" r="6.6" fill="#7fcb6c"/>
<circle cx="425.9" cy="589.4" r="6.6" fill="#b5b452"/>
<circle cx="547.2" cy="602.0" r="6.6" fill="#55b97a"/>
<circle cx="649.6" cy="621.2" r="6.6" fill="#7fcb6c"/>
<circle cx="584.5" cy="633.7" r="6.6" fill="#a6d468"/>
<circle cx="528.9" cy="641.7" r="6.6" fill="#4f8030"/>
<circle cx="531.6" cy="648.4" r="6.6" fill="#e8f3ef"/>
<circle cx="577.7" cy="647.2" r="6.6" fill="#b5b452"/>
<circle cx="557.1" cy="653.5" r="6.6" fill="#7fcb6c"/>
<circle cx="573.3" cy="660.1" r="6.6" fill="#b5b452"/>
<circle cx="605.4" cy="652.1" r="6.6" fill="#2f7d4a"/>
<circle cx="527.1" cy="695.6" r="6.6" fill="#4f8030"/>
<circle cx="527.5" cy="688.1" r="6.6" fill="#2f7d4a"/>
<circle cx="535.0" cy="704.3" r="6.6" fill="#4f8030"/>
<circle cx="573.9" cy="709.9" r="6.6" fill="#b5b452"/>
<circle cx="609.0" cy="723.6" r="6.6" fill="#2f7d4a"/>
<circle cx="379.9" cy="706.2" r="6.6" fill="#e8f3ef"/>
<circle cx="403.4" cy="712.2" r="6.6" fill="#2f7d4a"/>
<circle cx="442.9" cy="720.5" r="6.6" fill="#a6d468"/>
<circle cx="447.7" cy="721.6" r="6.6" fill="#b5b452"/>
<circle cx="457.6" cy="729.8" r="6.6" fill="#a6d468"/>
<circle cx="452.7" cy="728.5" r="6.6" fill="#55b97a"/>
<circle cx="470.9" cy="773.7" r="6.6" fill="#7fcb6c"/>
<circle cx="672.2" cy="793.0" r="6.6" fill="#b5b452"/>
</g>
<g class="d" id="dots-e" stroke="#151833">
<circle cx="895.9" cy="677.2" r="6.6" fill="#3e4291"/>
<circle cx="906.4" cy="675.4" r="6.6" fill="#3e4291"/>
<circle cx="911.7" cy="684.9" r="6.6" fill="#3e4291"/>
<circle cx="915.0" cy="679.6" r="6.6" fill="#3e4291"/>
<circle cx="903.8" cy="678.5" r="6.6" fill="#3d5ca0"/>
<circle cx="934.6" cy="701.0" r="6.6" fill="#3e4291"/>
<circle cx="933.2" cy="699.7" r="6.6" fill="#3d4e98"/>
<circle cx="957.0" cy="712.0" r="6.6" fill="#6fd156"/>
<circle cx="945.6" cy="725.9" r="6.6" fill="#3e4291"/>
<circle cx="948.0" cy="724.1" r="6.6" fill="#3c539c"/>
<circle cx="958.2" cy="734.9" r="6.6" fill="#3e4291"/>
<circle cx="977.9" cy="789.9" r="6.6" fill="#3e4291"/>
<circle cx="1004.7" cy="781.4" r="6.6" fill="#3e4291"/>
<circle cx="1084.3" cy="618.6" r="6.6" fill="#453f8f"/>
<circle cx="1079.6" cy="629.7" r="6.6" fill="#3c509c"/>
<circle cx="1111.3" cy="612.0" r="6.6" fill="#3e4291"/>
<circle cx="1118.4" cy="617.0" r="6.6" fill="#3e4291"/>
<circle cx="1121.4" cy="612.2" r="6.6" fill="#453f8f"/>
<circle cx="1112.0" cy="612.6" r="6.6" fill="#35689b"/>
<circle cx="1125.7" cy="623.4" r="6.6" fill="#2f7f95"/>
<circle cx="1144.5" cy="623.1" r="6.6" fill="#453f8f"/>
<circle cx="1138.7" cy="594.3" r="6.6" fill="#3c4f9b"/>
<circle cx="1260.0" cy="606.9" r="6.6" fill="#23968a"/>
<circle cx="1362.4" cy="626.1" r="6.6" fill="#3e4291"/>
<circle cx="1297.3" cy="638.6" r="6.6" fill="#3e4291"/>
<circle cx="1241.7" cy="646.6" r="6.6" fill="#3e4291"/>
<circle cx="1244.4" cy="653.3" r="6.6" fill="#fde725"/>
<circle cx="1290.5" cy="652.1" r="6.6" fill="#3e4291"/>
<circle cx="1269.9" cy="658.4" r="6.6" fill="#3e4291"/>
<circle cx="1286.1" cy="665.0" r="6.6" fill="#3e4291"/>
<circle cx="1318.2" cy="657.0" r="6.6" fill="#3e4291"/>
<circle cx="1239.9" cy="700.5" r="6.6" fill="#3e4291"/>
<circle cx="1240.3" cy="693.0" r="6.6" fill="#3e4291"/>
<circle cx="1247.8" cy="709.2" r="6.6" fill="#3e4291"/>
<circle cx="1286.7" cy="714.8" r="6.6" fill="#3e4291"/>
<circle cx="1321.8" cy="728.5" r="6.6" fill="#3e4291"/>
<circle cx="1092.7" cy="711.1" r="6.6" fill="#37679a"/>
<circle cx="1116.2" cy="717.1" r="6.6" fill="#3e4291"/>
<circle cx="1155.7" cy="725.4" r="6.6" fill="#3e4291"/>
<circle cx="1160.5" cy="726.5" r="6.6" fill="#2c8596"/>
<circle cx="1170.4" cy="734.7" r="6.6" fill="#3e4291"/>
<circle cx="1165.5" cy="733.4" r="6.6" fill="#229a8a"/>
<circle cx="1183.7" cy="778.6" r="6.6" fill="#6fd156"/>
<circle cx="1385.0" cy="797.9" r="6.6" fill="#3e4291"/>
</g>
<g class="d" id="dots-f" stroke="#1a1a1a">
<circle cx="1607.5" cy="678.2" r="6.6" fill="#a9aaa8"/>
<circle cx="1618.0" cy="676.4" r="6.6" fill="#a9aaa8"/>
<circle cx="1623.3" cy="685.9" r="6.6" fill="#a9aaa8"/>
<circle cx="1626.6" cy="680.6" r="6.6" fill="#e8f3ef"/>
<circle cx="1615.4" cy="679.5" r="6.6" fill="#e8f3ef"/>
<circle cx="1646.2" cy="702.0" r="6.6" fill="#a9aaa8"/>
<circle cx="1644.8" cy="700.7" r="6.6" fill="#a9aaa8"/>
<circle cx="1668.6" cy="713.0" r="6.6" fill="#3a3c3a"/>
<circle cx="1657.2" cy="726.9" r="6.6" fill="#a9aaa8"/>
<circle cx="1659.6" cy="725.1" r="6.6" fill="#a9aaa8"/>
<circle cx="1669.8" cy="735.9" r="6.6" fill="#a9aaa8"/>
<circle cx="1689.5" cy="790.9" r="6.6" fill="#3a3c3a"/>
<circle cx="1716.3" cy="782.4" r="6.6" fill="#e8f3ef"/>
<circle cx="1795.9" cy="619.6" r="6.6" fill="#e8f3ef"/>
<circle cx="1791.2" cy="630.7" r="6.6" fill="#a9aaa8"/>
<circle cx="1822.9" cy="613.0" r="6.6" fill="#3a3c3a"/>
<circle cx="1830.0" cy="618.0" r="6.6" fill="#e8f3ef"/>
<circle cx="1833.0" cy="613.2" r="6.6" fill="#a9aaa8"/>
<circle cx="1823.6" cy="613.6" r="6.6" fill="#3a3c3a"/>
<circle cx="1837.3" cy="624.4" r="6.6" fill="#3a3c3a"/>
<circle cx="1856.1" cy="624.1" r="6.6" fill="#3a3c3a"/>
<circle cx="1850.3" cy="595.3" r="6.6" fill="#a9aaa8"/>
<circle cx="1971.6" cy="607.9" r="6.6" fill="#a9aaa8"/>
<circle cx="2074.0" cy="627.1" r="6.6" fill="#a9aaa8"/>
<circle cx="2008.9" cy="639.6" r="6.6" fill="#3a3c3a"/>
<circle cx="1953.3" cy="647.6" r="6.6" fill="#3a3c3a"/>
<circle cx="1956.0" cy="654.3" r="6.6" fill="#a9aaa8"/>
<circle cx="2002.1" cy="653.1" r="6.6" fill="#3a3c3a"/>
<circle cx="1981.5" cy="659.4" r="6.6" fill="#a9aaa8"/>
<circle cx="1997.7" cy="666.0" r="6.6" fill="#a9aaa8"/>
<circle cx="2029.8" cy="658.0" r="6.6" fill="#a9aaa8"/>
<circle cx="1951.5" cy="701.5" r="6.6" fill="#3a3c3a"/>
<circle cx="1951.9" cy="694.0" r="6.6" fill="#3a3c3a"/>
<circle cx="1959.4" cy="710.2" r="6.6" fill="#a9aaa8"/>
<circle cx="1998.3" cy="715.8" r="6.6" fill="#a9aaa8"/>
<circle cx="2033.4" cy="729.5" r="6.6" fill="#a9aaa8"/>
<circle cx="1804.3" cy="712.1" r="6.6" fill="#3a3c3a"/>
<circle cx="1827.8" cy="718.1" r="6.6" fill="#a9aaa8"/>
<circle cx="1867.3" cy="726.4" r="6.6" fill="#3a3c3a"/>
<circle cx="1872.1" cy="727.5" r="6.6" fill="#a9aaa8"/>
<circle cx="1882.0" cy="735.7" r="6.6" fill="#a9aaa8"/>
<circle cx="1877.1" cy="734.4" r="6.6" fill="#a9aaa8"/>
<circle cx="1895.3" cy="779.6" r="6.6" fill="#3a3c3a"/>
<circle cx="2096.6" cy="798.9" r="6.6" fill="#e8f3ef"/>
</g>

<text class="pl" x="58.5" y="33">a</text>
<text class="pl" x="774.5" y="33.2">b</text>
<text class="pl" x="1487.5" y="33">c</text>
<text class="pl" x="61" y="510.6">d</text>
<text class="pl" x="772" y="513.5">e</text>
<text class="pl" x="1487" y="513">f</text>
<rect x="61.6" y="228.2" width="25.7" height="127.7" fill="url(#gA)"/>
<text class="l" x="95.2" y="243.4">4,964</text>
<text class="l" x="95.4" y="352.8">100</text>
<text class="t" x="21" y="379">MAP (mm y<tspan dx="2.5" dy="-7.5" font-size="12">-1</tspan><tspan dx="1.5" dy="7.5">)</tspan></text>
<rect x="773.5" y="226.7" width="25.6" height="127.7" fill="url(#gB)"/>
<text class="l" x="810.1" y="242.3">14.1</text>
<text class="l" x="810" y="351.8">0.2</text>
<text class="t" x="732.3" y="380">Seasonality (°C)</text>
<circle cx="1498.5" cy="287.6" r="3.9" fill="#ffffff" stroke="#1a1214" stroke-width="1.9"/>
<circle cx="1498.5" cy="313.3" r="3.9" fill="#6a3440" stroke="#1a1214" stroke-width="1.9"/>
<text class="l" x="1515" y="293.8">0</text>
<text class="l" x="1515" y="319.3">1</text>
<text class="t" x="1434" y="379.8">Disturbance regime</text>
<circle cx="70.8" cy="670.9" r="3.9" fill="#ffffff" stroke="#1d2a18" stroke-width="1.9"/>
<circle cx="70.8" cy="696.4" r="3.9" fill="#b9b85c" stroke="#1d2a18" stroke-width="1.9"/>
<circle cx="70.8" cy="721.9" r="3.9" fill="#a9d66e" stroke="#1d2a18" stroke-width="1.9"/>
<circle cx="70.8" cy="747.1" r="3.9" fill="#8ccf7e" stroke="#1d2a18" stroke-width="1.9"/>
<circle cx="70.8" cy="773.4" r="3.9" fill="#66c085" stroke="#1d2a18" stroke-width="1.9"/>
<circle cx="70.8" cy="799.4" r="3.9" fill="#5d7f45" stroke="#1d2a18" stroke-width="1.9"/>
<circle cx="70.8" cy="824.8" r="3.9" fill="#3f7f52" stroke="#1d2a18" stroke-width="1.9"/>
<text class="l" x="87.8" y="676.6">NA</text>
<text class="l" x="89" y="702.8">0</text>
<text class="l" x="89" y="728.2">1</text>
<text class="l" x="89" y="753.4">2</text>
<text class="l" x="89" y="779.6">3</text>
<text class="l" x="89" y="805.6">4</text>
<text class="l" x="89" y="831">5<tspan font-size="9">.</tspan></text>
<text class="t" x="-1" y="857.8">Remnant forest cover</text>
<text class="t" x="31.5" y="882.8">(ordinal value)</text>
<rect x="777.5" y="707.8" width="25.4" height="128.2" fill="url(#gE)"/>
<text class="l" x="814" y="722">18,000</text>
<text class="l" x="814" y="835.4">30</text>
<text class="t" x="734.6" y="868.4">Distance to continuous forest (m)</text>
<circle cx="1495.7" cy="755.4" r="3.9" fill="#ffffff" stroke="#1a1a1a" stroke-width="1.9"/>
<circle cx="1495.7" cy="781.6" r="3.9" fill="#b5b5b5" stroke="#1a1a1a" stroke-width="1.9"/>
<circle cx="1495.7" cy="807.4" r="3.9" fill="#4a4a4a" stroke="#1a1a1a" stroke-width="1.9"/>
<text class="l" x="1517.4" y="760.8">NA</text>
<text class="l" x="1517.8" y="786.8">≤1 km</text>
<text class="l" x="1517.8" y="815.4">&gt;1 km</text>
<text class="t" x="1419.3" y="866.1">Proximity to native forest</text>

</svg></body></html>
